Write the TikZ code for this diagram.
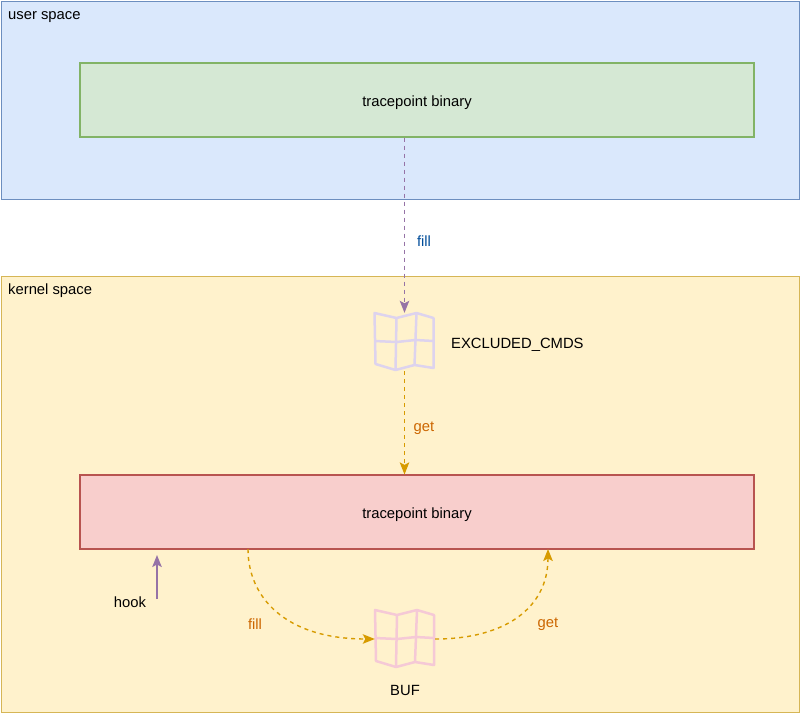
\documentclass[tikz,border=0pt]{standalone}
\usepackage{fontspec}
\setmainfont{Liberation Sans}
\usetikzlibrary{arrows.meta}
\definecolor{ublue}{HTML}{DAE8FC}
\definecolor{ubluedraw}{HTML}{6C8EBF}
\definecolor{kyel}{HTML}{FFF2CC}
\definecolor{kyeldraw}{HTML}{D6B656}
\definecolor{ggreen}{HTML}{D5E8D4}
\definecolor{ggreendraw}{HTML}{82B366}
\definecolor{rred}{HTML}{F8CECC}
\definecolor{rreddraw}{HTML}{B85450}
\definecolor{purp}{HTML}{9673A6}
\definecolor{orng}{HTML}{D79B00}
\definecolor{lblblue}{HTML}{004C99}
\definecolor{lblorng}{HTML}{CC6600}
\definecolor{iconpink}{HTML}{F5C9D6}
\definecolor{iconlav}{HTML}{DDD3EE}
\tikzset{
  x=1pt, y=-1pt,
  every node/.style={font=\fontsize{14.8}{17}\selectfont, inner sep=0pt},
  region/.style={draw, line width=1.2pt, anchor=north west, minimum width=#1},
  procbox/.style={draw, line width=1.2pt, minimum width=674pt, minimum height=74pt, text height=13pt, text depth=0pt},
  iconbox/.style={minimum width=60pt, minimum height=58pt},
  tipstyle/.style={-{Stealth[length=12pt,width=9.5pt,inset=2.5pt]}},
  purpdash/.style={tipstyle, purp, line width=1.4pt, dash pattern=on 4pt off 4pt},
  orngdash/.style={tipstyle, orng, line width=1.4pt, dash pattern=on 4pt off 4pt},
  orlabel/.style={text=lblorng},
  mapicon/.pic={
    \begin{scope}[shift={(-30,-29)}, line width=2.5pt, line join=round, draw=#1]
      \draw (0,0) -- (22,5) -- (42,0) -- (59,5) -- (59,55) -- (40,52) -- (21,57) -- (1,51) -- cycle;
      \draw (22,5) -- (21,57);
      \draw (42,0) -- (40,52);
      \draw (0,28) -- (22,29) -- (41,27) -- (59,28);
    \end{scope}
  }
}
\begin{document}
\begin{tikzpicture}
\useasboundingbox (0,0) rectangle (800,713);
% regions
\node[region=798pt, minimum height=198pt, fill=ublue, draw=ubluedraw] (user) at (1,1) {};
\node[anchor=west] (userlbl) at (8,17) {user space};
\node[region=798pt, minimum height=436pt, fill=kyel, draw=kyeldraw] (kernel) at (1,276) {};
\node[anchor=west] (kernellbl) at (8,291) {kernel space};
% boxes
\node[procbox, fill=ggreen, draw=ggreendraw] (green) at (417,100) {tracepoint binary};
\node[procbox, fill=rred, draw=rreddraw] (red) at (417,512) {tracepoint binary};
% icons
\node[iconbox] (excl) at (404.5,342) {};
\pic at (excl.center) {mapicon=iconlav};
\node[anchor=west] (excllbl) at (451,345) {EXCLUDED\_CMDS};
\node[iconbox] (buf) at (405,639) {};
\pic at (buf.center) {mapicon=iconpink};
\node (buflbl) at (405,690) {BUF};
% arrows
\draw[purpdash] (green.south -| excl.north) -- (excl.north);
\node[text=lblblue] (filllbl) at (424,241) {fill};
\draw[orngdash] (excl.south) -- (red.north -| excl.south);
\node[orlabel] (getlbl) at (424,428) {get};
\coordinate (hookstart) at (157,599);
\coordinate (hookend) at (157,555);
\draw[tipstyle, purp, line width=1.4pt] (hookstart) -- (hookend);
\node (hooklbl) at (130,602) {hook};
\coordinate (fillstart) at (248,549);
\coordinate (getend) at (548,549);
\draw[orngdash] (fillstart) .. controls (248,597) and (285,639) .. (buf.west);
\draw[orngdash] (buf.east) .. controls (505,639) and (548,608) .. (getend);
\node[orlabel] (filllbl2) at (255,624) {fill};
\node[orlabel] (getlbl2) at (548,624) {get};
\end{tikzpicture}
\end{document}
